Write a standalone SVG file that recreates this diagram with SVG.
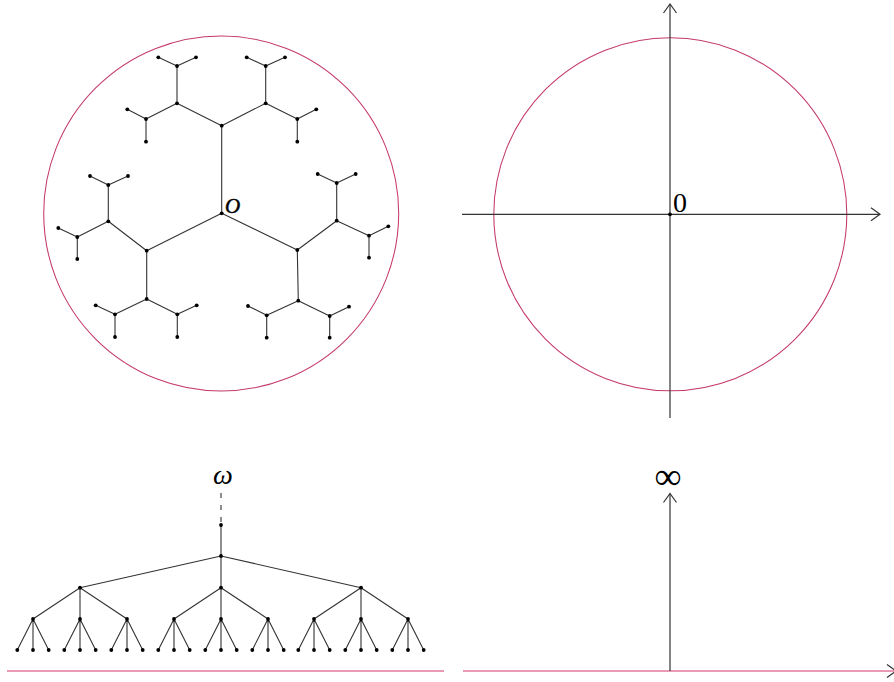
<svg xmlns="http://www.w3.org/2000/svg" xmlns:xlink="http://www.w3.org/1999/xlink" width="894" height="682" viewBox="0 0 894 682">
<style>
.e{stroke:#333;stroke-width:1.1;fill:none}
.d{fill:#000}
.circ{fill:none;stroke:#c4396e;stroke-width:1.05}
.base{stroke:#e89ab5;stroke-width:2}
.ax{stroke:#333;stroke-width:1.2;fill:none}
.lbl{font-family:"Liberation Serif","DejaVu Serif",serif;fill:#000}
</style>
<defs>
<circle id="dot" r="1.9" class="d"/>
<marker id="chev" markerUnits="userSpaceOnUse" viewBox="-10 -8 12 16" refX="0" refY="0" markerWidth="12" markerHeight="16" orient="auto">
<path d="M-9,-6.5 L0,0 L-9,6.5" fill="none" stroke="#333" stroke-width="1.2"/>
</marker>
</defs>
<rect width="894" height="682" fill="#fff"/>

<!-- Top-left: disk with tree -->
<circle class="circ" cx="221.2" cy="213.5" r="177.5"/>
<g id="connectors-tl" class="e">
<path d="M221.7,213.3L221.7,125.7M221.7,213.3L146.7,250.7M221.7,213.3L297.3,250"/>
<path d="M221.7,125.7L177,103.3M221.7,125.7L265.7,103.3"/>
<path d="M177,103.3L177,66M177,103.3L146,119M177,66L158.3,57.3M177,66L196,57.3M146,119L127.3,109.3M146,119L146,141.7"/>
<path d="M265.7,103.3L265.7,66M265.7,103.3L297.3,119M265.7,66L246.7,57.3M265.7,66L285,57.3M297.3,119L316.3,109.3M297.3,119L297.3,141.7"/>
<path d="M146.7,250.7L108.3,221.3M146.7,250.7L146.7,299"/>
<path d="M108.3,221.3L108.3,185M108.3,221.3L77.3,237M108.3,185L90,176M108.3,185L128,176M77.3,237L58.3,228M77.3,237L77.3,259"/>
<path d="M146.7,299L115,314.3M146.7,299L177.3,314.3M115,314.3L95.7,305.3M115,314.3L115,337M177.3,314.3L196.7,305.3M177.3,314.3L177.3,337"/>
<path d="M297.3,250L336.7,220.7M297.3,250L298.3,300.7"/>
<path d="M336.7,220.7L336.7,183M336.7,220.7L369,235.7M336.7,183L317.7,174M336.7,183L355.7,174M369,235.7L388.3,226.3M369,235.7L369,257.7"/>
<path d="M298.3,300.7L266.7,315.3M298.3,300.7L329.7,316M266.7,315.3L248,306M266.7,315.3L266.7,337.7M329.7,316L349,306.7M329.7,316L329.7,337.7"/>
</g>
<g id="O"><use href="#dot" x="221.7" y="213.3"/><text class="lbl" x="225" y="213" font-size="21" font-style="italic" stroke="#000" stroke-width="0.5">O</text></g>
<g id="A"><use href="#dot" x="221.7" y="125.7"/></g>
<g id="B"><use href="#dot" x="146.7" y="250.7"/></g>
<g id="C"><use href="#dot" x="297.3" y="250"/></g>
<g id="A1"><use href="#dot" x="177" y="103.3"/></g>
<g id="A2"><use href="#dot" x="265.7" y="103.3"/></g>
<g id="A1a"><use href="#dot" x="177" y="66"/></g>
<g id="A1b"><use href="#dot" x="146" y="119"/></g>
<g id="A2a"><use href="#dot" x="265.7" y="66"/></g>
<g id="A2b"><use href="#dot" x="297.3" y="119"/></g>
<g id="A1a-1"><use href="#dot" x="158.3" y="57.3"/></g>
<g id="A1a-2"><use href="#dot" x="196" y="57.3"/></g>
<g id="A1b-1"><use href="#dot" x="127.3" y="109.3"/></g>
<g id="A1b-2"><use href="#dot" x="146" y="141.7"/></g>
<g id="A2a-1"><use href="#dot" x="246.7" y="57.3"/></g>
<g id="A2a-2"><use href="#dot" x="285" y="57.3"/></g>
<g id="A2b-1"><use href="#dot" x="316.3" y="109.3"/></g>
<g id="A2b-2"><use href="#dot" x="297.3" y="141.7"/></g>
<g id="B1"><use href="#dot" x="108.3" y="221.3"/></g>
<g id="B2"><use href="#dot" x="146.7" y="299"/></g>
<g id="B1a"><use href="#dot" x="108.3" y="185"/></g>
<g id="B1b"><use href="#dot" x="77.3" y="237"/></g>
<g id="B2a"><use href="#dot" x="115" y="314.3"/></g>
<g id="B2b"><use href="#dot" x="177.3" y="314.3"/></g>
<g id="B1a-1"><use href="#dot" x="90" y="176"/></g>
<g id="B1a-2"><use href="#dot" x="128" y="176"/></g>
<g id="B1b-1"><use href="#dot" x="58.3" y="228"/></g>
<g id="B1b-2"><use href="#dot" x="77.3" y="259"/></g>
<g id="B2a-1"><use href="#dot" x="95.7" y="305.3"/></g>
<g id="B2a-2"><use href="#dot" x="115" y="337"/></g>
<g id="B2b-1"><use href="#dot" x="196.7" y="305.3"/></g>
<g id="B2b-2"><use href="#dot" x="177.3" y="337"/></g>
<g id="C1"><use href="#dot" x="336.7" y="220.7"/></g>
<g id="C2"><use href="#dot" x="298.3" y="300.7"/></g>
<g id="C1a"><use href="#dot" x="336.7" y="183"/></g>
<g id="C1b"><use href="#dot" x="369" y="235.7"/></g>
<g id="C2a"><use href="#dot" x="266.7" y="315.3"/></g>
<g id="C2b"><use href="#dot" x="329.7" y="316"/></g>
<g id="C1a-1"><use href="#dot" x="317.7" y="174"/></g>
<g id="C1a-2"><use href="#dot" x="355.7" y="174"/></g>
<g id="C1b-1"><use href="#dot" x="388.3" y="226.3"/></g>
<g id="C1b-2"><use href="#dot" x="369" y="257.7"/></g>
<g id="C2a-1"><use href="#dot" x="248" y="306"/></g>
<g id="C2a-2"><use href="#dot" x="266.7" y="337.7"/></g>
<g id="C2b-1"><use href="#dot" x="349" y="306.7"/></g>
<g id="C2b-2"><use href="#dot" x="329.7" y="337.7"/></g>

<!-- Top-right: disk in plane -->
<circle class="circ" cx="670.3" cy="214.3" r="176.5"/>
<g id="axes-tr" class="ax">
<line x1="462" y1="214.3" x2="880" y2="214.3" marker-end="url(#chev)"/>
<line x1="670" y1="418" x2="670" y2="4" marker-end="url(#chev)"/>
</g>
<g id="zero"><use href="#dot" x="670" y="214.3"/><text class="lbl" x="673" y="212" font-size="28">0</text></g>

<!-- Bottom-left: tree with end omega -->
<line class="base" x1="7" y1="671" x2="444" y2="671"/>
<g id="connectors-bl" class="e">
<line x1="221" y1="493" x2="221" y2="522" stroke-dasharray="5,7"/>
<path d="M221,525L221,556M221,556L80,587.7M221,556L221,587.7M221,556L361,587.7"/>
<path d="M80,587.7L33,619M80,587.7L80,619M80,587.7L127,619M221,587.7L174,619M221,587.7L221,619M221,587.7L268,619M361,587.7L314,619M361,587.7L361,619M361,587.7L408,619"/>
<path d="M33,619l-15.7,31M33,619v31M33,619l15.7,31M80,619l-15.7,31M80,619v31M80,619l15.7,31M127,619l-15.7,31M127,619v31M127,619l15.7,31M174,619l-15.7,31M174,619v31M174,619l15.7,31M221,619l-15.7,31M221,619v31M221,619l15.7,31M268,619l-15.7,31M268,619v31M268,619l15.7,31M314,619l-15.7,31M314,619v31M314,619l15.7,31M361,619l-15.7,31M361,619v31M361,619l15.7,31M408,619l-15.7,31M408,619v31M408,619l15.7,31"/>
</g>
<g id="omega"><text class="lbl" x="223" y="484" font-size="28" font-style="italic" text-anchor="middle">ω</text></g>
<g id="t0"><use href="#dot" x="221" y="525"/></g>
<g id="root"><use href="#dot" x="221" y="556"/></g>
<g id="n1"><use href="#dot" x="80" y="587.7"/></g>
<g id="n2"><use href="#dot" x="221" y="587.7"/></g>
<g id="n3"><use href="#dot" x="361" y="587.7"/></g>
<g id="n11"><use href="#dot" x="33" y="619"/></g>
<g id="n12"><use href="#dot" x="80" y="619"/></g>
<g id="n13"><use href="#dot" x="127" y="619"/></g>
<g id="n21"><use href="#dot" x="174" y="619"/></g>
<g id="n22"><use href="#dot" x="221" y="619"/></g>
<g id="n23"><use href="#dot" x="268" y="619"/></g>
<g id="n31"><use href="#dot" x="314" y="619"/></g>
<g id="n32"><use href="#dot" x="361" y="619"/></g>
<g id="n33"><use href="#dot" x="408" y="619"/></g>
<g id="leaves">
<use href="#dot" x="17.3" y="650"/><use href="#dot" x="33" y="650"/><use href="#dot" x="48.7" y="650"/>
<use href="#dot" x="64.3" y="650"/><use href="#dot" x="80" y="650"/><use href="#dot" x="95.7" y="650"/>
<use href="#dot" x="111.3" y="650"/><use href="#dot" x="127" y="650"/><use href="#dot" x="142.7" y="650"/>
<use href="#dot" x="158.3" y="650"/><use href="#dot" x="174" y="650"/><use href="#dot" x="189.7" y="650"/>
<use href="#dot" x="205.3" y="650"/><use href="#dot" x="221" y="650"/><use href="#dot" x="236.7" y="650"/>
<use href="#dot" x="252.3" y="650"/><use href="#dot" x="268" y="650"/><use href="#dot" x="283.7" y="650"/>
<use href="#dot" x="298.3" y="650"/><use href="#dot" x="314" y="650"/><use href="#dot" x="329.7" y="650"/>
<use href="#dot" x="345.3" y="650"/><use href="#dot" x="361" y="650"/><use href="#dot" x="376.7" y="650"/>
<use href="#dot" x="392.3" y="650"/><use href="#dot" x="408" y="650"/><use href="#dot" x="423.7" y="650"/>
</g>

<!-- Bottom-right: half-plane -->
<g id="axes-br">
<line class="base" x1="463" y1="671" x2="896" y2="671"/>
<path d="M887,664.5 L896,671 L887,677.5" fill="none" stroke="#333" stroke-width="1.2"/>
<line class="ax" x1="670" y1="671" x2="670" y2="493.5" marker-end="url(#chev)"/>
</g>
<g id="infinity"><text class="lbl" x="668" y="489" font-size="38" font-family="DejaVu Serif, serif" text-anchor="middle">∞</text></g>
</svg>
